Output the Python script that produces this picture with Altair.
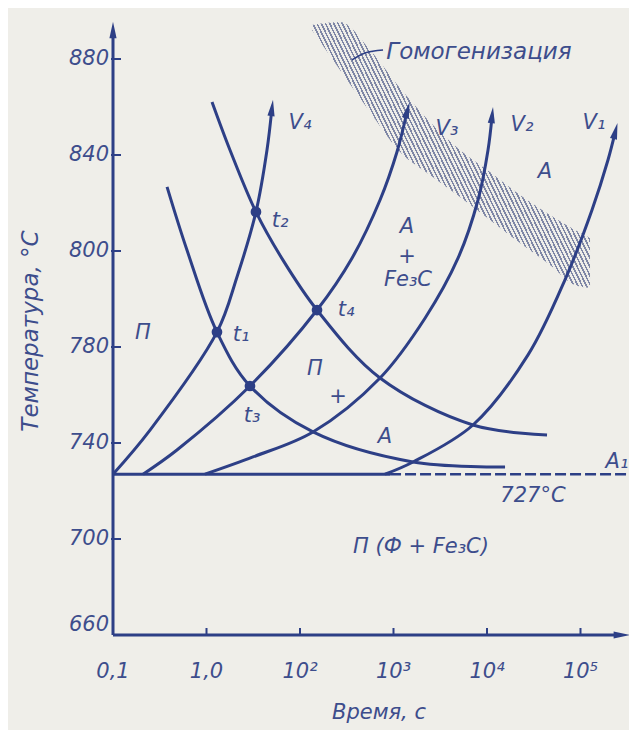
import altair as alt
import pandas as pd

# ---------------- data ----------------
# time axis: equally spaced ticks, position index 0..5
X_TICKS = [0, 1, 2, 3, 4, 5]
X_TICK_LABELS = ["0,1", "1,0", "10²", "10³", "10⁴", "10⁵"]
Y_TICKS = [660, 700, 740, 780, 800, 840, 880]
A1_TEMP = 727
A1_SOLID_END = 2.963
A1_DASH_END = 5.55

# heating curves V1..V4 (x = time-axis position, T = temperature, °C)
V4_X = [0.0, 0.396, 1.112, 1.326, 1.529, 1.647, 1.698]
V4_T = [727, 745.4, 783.1, 794.6, 816.3, 842.1, 858.8]
V3_X = [0.321, 0.684, 1.465, 2.182, 2.556, 2.856, 3.037, 3.144]
V3_T = [727, 737.1, 763.75, 787.7, 798.5, 821.25, 841.25, 857.9]
V2_X = [0.984, 1.497, 2.139, 2.856, 3.337, 3.690, 3.904, 4.011, 4.053]
V2_T = [727, 734.2, 744.6, 767.1, 786.0, 798.5, 821.25, 842.1, 855.8]
V1_X = [2.909, 3.209, 3.850, 4.439, 4.834, 5.123, 5.294, 5.369]
V1_T = [727, 732.1, 747.5, 776.7, 794.0, 817.1, 837.9, 849.2]
# transformation curves
D1_X = [0.578, 0.791, 1.112, 1.465, 2.139, 3.209, 4.193]
D1_T = [826.7, 800.4, 783.1, 763.75, 744.6, 732.1, 730.0]
D2_X = [1.059, 1.251, 1.529, 1.818, 2.182, 2.856, 3.850, 4.642]
D2_T = [862.1, 842.1, 816.3, 798.1, 787.7, 767.1, 747.5, 743.3]

# intersection points t1..t4
PT_X = [1.112, 1.529, 1.465, 2.182]
PT_T = [783.1, 816.3, 763.75, 787.7]

# homogenisation band
BAND_X = [2.128, 2.428, 2.749, 3.070, 3.390, 3.711, 4.032, 4.353, 4.674, 4.941, 5.102]
BAND_HI = [894.2, 895.4, 883.75, 867.9, 853.75, 842.1, 832.9, 823.3, 815.0, 808.75, 805.4]
BAND_LO = [892.1, 875.4, 857.9, 841.25, 831.7, 822.5, 812.9, 803.3, 797.1, 792.9, 792.3]
LEADER_X = [2.556, 2.695, 2.888]
LEADER_T = [879.6, 882.5, 883.75]

# annotations
LABELS = ["П", "t₁", "t₂", "t₃", "t₄", "П", "+", "А", "А", "+", "Fe₃C", "А",
          "V₄", "V₃", "V₂", "V₁", "A₁", "727°C", "П (Ф + Fe₃C)"]
LABEL_X = [0.321, 1.369, 1.786, 1.487, 2.492, 2.160, 2.406, 2.909, 3.144, 3.144, 3.155, 4.620,
           2.0, 3.572, 4.374, 5.144, 5.390, 4.492, 3.294]
LABEL_T = [782.9, 782.5, 812.5, 751.25, 787.7, 770.8, 759.2, 742.5, 810.0, 798.75, 794.0, 832.9,
           853.3, 850.8, 852.5, 853.3, 732.1, 717.9, 696.7]
BAND_LABEL = ["Гомогенизация"]
BAND_LABEL_X = [3.914]
BAND_LABEL_T = [882.9]
X_TITLE = "Время, с"
Y_TITLE = "Температура, °C"

# ---------------- styling ----------------
BG = "#efeee9"
LINE = "#2d3f86"
TEXT = "#3d4d8c"
HATCH = "#7f87a6"
FONT = "DejaVu Sans"
FS = 21
ARROW = "M0,-1L0.35,0.6L-0.35,0.6Z"
ARROW_ANGLE = {"V4": 7, "V3": 15, "V2": 6, "V1": 14}

W, H = 512, 615
Y_DOMAIN = [660, 700, 740, 780, 800, 840, 880, 896.25]
Y_RANGE = [615, 519, 423, 327, 231, 135, 39, 0]
XS = alt.Scale(domain=[0, 5.476], nice=False, zero=False)
YS = alt.Scale(domain=Y_DOMAIN, range=Y_RANGE, nice=False, zero=False)


def ex(f="x"):
    return alt.X(f"{f}:Q", scale=XS, axis=None)


def ey(f="t"):
    return alt.Y(f"{f}:Q", scale=YS, axis=None)


# ---------------- tables ----------------
rows = []
for name, xs, ts in [("V4", V4_X, V4_T), ("V3", V3_X, V3_T), ("V2", V2_X, V2_T),
                     ("V1", V1_X, V1_T), ("D1", D1_X, D1_T), ("D2", D2_X, D2_T)]:
    for i, (a, b) in enumerate(zip(xs, ts)):
        rows.append({"curve": name, "i": i, "x": a, "t": b})
curves = pd.DataFrame(rows)

arrows = pd.DataFrame([
    {"x": xs[-1], "t": ts[-1], "angle": ARROW_ANGLE[n]}
    for n, xs, ts in [("V4", V4_X, V4_T), ("V3", V3_X, V3_T), ("V2", V2_X, V2_T), ("V1", V1_X, V1_T)]
])
pts = pd.DataFrame({"x": PT_X, "t": PT_T})
band = pd.DataFrame({"x": BAND_X, "hi": BAND_HI, "lo": BAND_LO})
leader = pd.DataFrame({"x": LEADER_X, "t": LEADER_T})
labels = pd.DataFrame({"label": LABELS, "x": LABEL_X, "t": LABEL_T})
band_label = pd.DataFrame({"label": BAND_LABEL, "x": BAND_LABEL_X, "t": BAND_LABEL_T})
a1_solid = pd.DataFrame({"x": [0], "x2": [A1_SOLID_END], "t": [A1_TEMP]})
a1_dash = pd.DataFrame({"x": [A1_SOLID_END], "x2": [A1_DASH_END], "t": [A1_TEMP]})
yaxis_line = pd.DataFrame({"x": [0], "t": [Y_TICKS[0]], "t2": [891.25]})
xaxis_line = pd.DataFrame({"x": [0], "x2": [5.42], "t": [Y_TICKS[0]]})
axis_arrows = pd.DataFrame({"x": [0, 5.42], "t": [891.25, Y_TICKS[0]], "angle": [0, 90]})
yticks = pd.DataFrame({"t": Y_TICKS[1:]})
ylab_main = pd.DataFrame({"t": Y_TICKS[1:], "label": [str(v) for v in Y_TICKS[1:]]})
ylab_low = pd.DataFrame({"t": Y_TICKS[:1], "label": [str(v) for v in Y_TICKS[:1]]})
xticks = pd.DataFrame({"x": X_TICKS[1:]})
xlab = pd.DataFrame({"x": X_TICKS, "label": X_TICK_LABELS})
titles = pd.DataFrame({"label": [X_TITLE]})
ytitle = pd.DataFrame({"label": [Y_TITLE]})

# hatch pattern as a striped gradient
N = 80
stops = []
for k in range(N):
    a, b, c = k / N, (k + 0.42) / N, (k + 1) / N
    stops += [{"offset": a, "color": HATCH}, {"offset": b, "color": HATCH},
              {"offset": b, "color": BG}, {"offset": c, "color": BG}]
hatch = alt.LinearGradient(gradient="linear", stops=stops, x1=0, y1=0.73, x2=1, y2=0.27)

txt = dict(font=FONT, fontStyle="italic", color=TEXT)

# ---------------- layers ----------------
layers = [
    alt.Chart(band).mark_area(fill=hatch, interpolate="monotone").encode(
        x=ex(), y=ey("hi"), y2="lo:Q"),
    alt.Chart(a1_solid).mark_rule(color=LINE, strokeWidth=3).encode(x=ex(), x2="x2:Q", y=ey()),
    alt.Chart(a1_dash).mark_rule(color=LINE, strokeWidth=2.5, strokeDash=[11, 4]).encode(
        x=ex(), x2="x2:Q", y=ey()),
    alt.Chart(yaxis_line).mark_rule(color=LINE, strokeWidth=3).encode(x=ex(), y=ey(), y2="t2:Q"),
    alt.Chart(xaxis_line).mark_rule(color=LINE, strokeWidth=3).encode(x=ex(), x2="x2:Q", y=ey()),
    alt.Chart(axis_arrows).mark_point(shape=ARROW, filled=True, size=420, color=LINE, opacity=1).encode(
        x=ex(), y=ey(), angle=alt.Angle("angle:Q", scale=None)),
    alt.Chart(yticks).mark_rule(color=LINE, strokeWidth=2).encode(
        x=alt.value(-2), x2=alt.value(8), y=ey()),
    alt.Chart(xticks).mark_rule(color=LINE, strokeWidth=2).encode(
        x=ex(), y=alt.value(H), y2=alt.value(H - 7)),
    alt.Chart(curves).mark_line(color=LINE, strokeWidth=3, interpolate="catmull-rom").encode(
        x=ex(), y=ey(), detail="curve:N", order="i:Q"),
    alt.Chart(leader).mark_line(color=LINE, strokeWidth=1.5, interpolate="monotone").encode(
        x=ex(), y=ey(), order=alt.Order("x:Q")),
    alt.Chart(arrows).mark_point(shape=ARROW, filled=True, size=420, color=LINE, opacity=1).encode(
        x=ex(), y=ey(), angle=alt.Angle("angle:Q", scale=None)),
    alt.Chart(pts).mark_circle(size=115, color=LINE, opacity=1).encode(x=ex(), y=ey()),
    alt.Chart(labels).mark_text(fontSize=FS, align="center", baseline="middle", **txt).encode(
        x=ex(), y=ey(), text="label:N"),
    alt.Chart(band_label).mark_text(fontSize=23, align="center", baseline="middle", **txt).encode(
        x=ex(), y=ey(), text="label:N"),
    # tick labels and titles
    alt.Chart(ylab_main).mark_text(fontSize=FS, align="right", baseline="middle", **txt).encode(
        x=alt.value(-4), y=ey(), text="label:N"),
    alt.Chart(ylab_low).mark_text(fontSize=FS, align="right", baseline="middle", dy=-10, **txt).encode(
        x=alt.value(-4), y=ey(), text="label:N"),
    alt.Chart(xlab).mark_text(fontSize=FS, align="center", baseline="middle", **txt).encode(
        x=ex(), y=alt.value(H + 37), text="label:N"),
    alt.Chart(titles).mark_text(fontSize=FS, align="center", baseline="middle", **txt).encode(
        x=alt.value(266), y=alt.value(H + 78), text="label:N"),
    alt.Chart(ytitle).mark_text(fontSize=23, align="center", baseline="middle", angle=270, **txt).encode(
        x=alt.value(-82), y=alt.value(311), text="label:N"),
]

chart = alt.layer(*layers).properties(
    width=W, height=H,
    padding={"left": 105, "top": 12, "right": 4, "bottom": 95},
    autosize=alt.AutoSizeParams(type="none"),
    background=BG,
).configure_view(stroke=None)

chart.save("out.html", embed_options={"renderer": "svg", "actions": False})
